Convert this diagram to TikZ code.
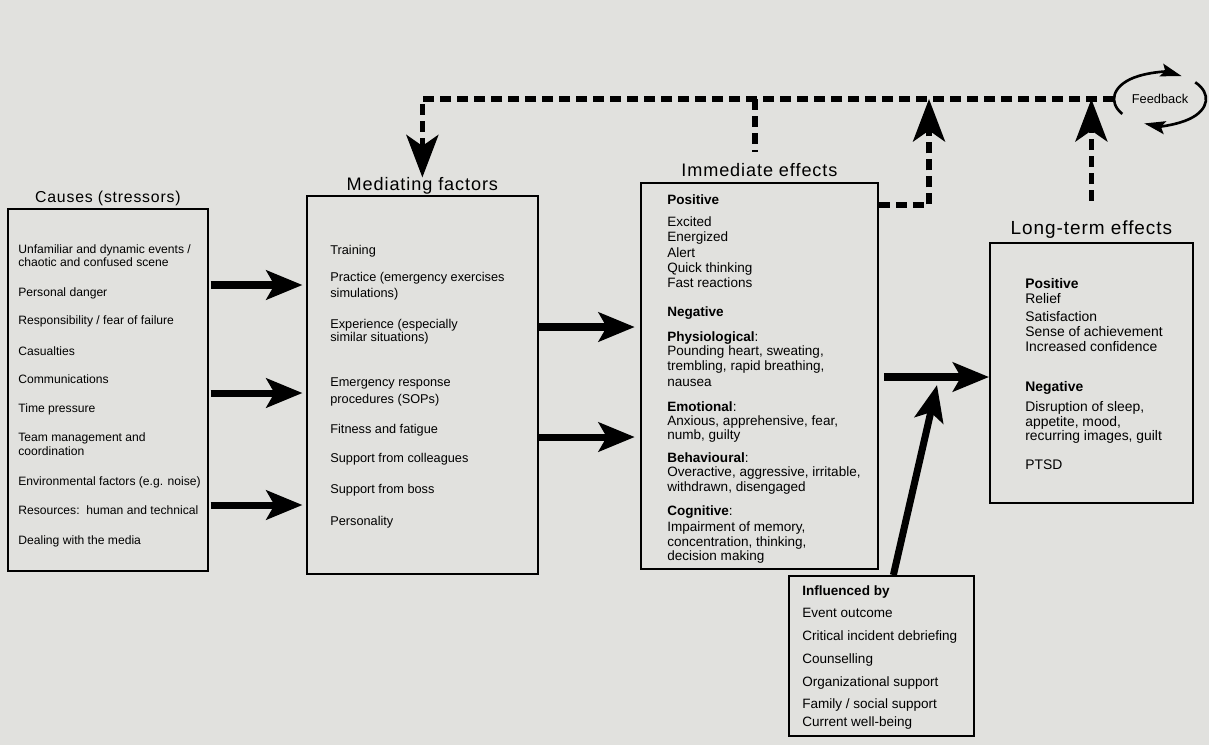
\documentclass[tikz,border=0pt]{standalone}
\usepackage{fontspec}
\setmainfont{Liberation Sans}
\usepackage{tikz}
\usetikzlibrary{positioning, arrows.meta, calc}

\newcommand{\fsz}[1]{\fontsize{#1}{#1}\selectfont}
\newcommand{\ttlfont}[1]{\fontsize{#1}{#1}\selectfont\addfontfeature{LetterSpace=5}}
\definecolor{paper}{RGB}{225,225,222}

\begin{document}
\begin{tikzpicture}[
  x=0.02cm, y=-0.02cm,
  panel/.style 2 args={
    draw, line width=1pt, anchor=north west, inner sep=0pt,
    minimum width=#1*0.02cm, minimum height=#2*0.02cm
  },
  ttl/.style={inner sep=0pt},
  item/.style={anchor=base west, inner sep=0pt},
  bigarrow/.style={line width=4pt, -{Stealth[length=0.72cm, width=0.58cm, inset=0.16cm]}},
  fbline/.style={line width=3pt, dash pattern=on 0.22cm off 0.12cm},
  fbhead/.style={-{Stealth[length=0.85cm, width=0.64cm, inset=0.22cm]}},
  fbarc/.style={line width=1.5pt, -{Stealth[length=0.42cm, width=0.26cm, inset=0.08cm]}},
]

\useasboundingbox (0,0) rectangle (1209,745);
\fill[paper] (0,0) rectangle (1209,745);

% Boxes
\node[panel={200}{362}] (cau) at (7,208) {};
\node[panel={231}{378}] (med) at (306,195) {};
\node[panel={237}{386}] (imm) at (640,182) {};
\node[panel={203}{260}] (lt) at (989,242) {};
\node[panel={185}{160}] (inf) at (788,575) {};

% Titles
\node[ttl, font=\ttlfont{9}, above=1pt of cau] (cauT) {Causes (stressors)};
\node[ttl, font=\ttlfont{10.3}, above=0pt of med] (medT) {Mediating factors};
\node[ttl, font=\ttlfont{10.3}, above=0.1cm of imm] (immT) {Immediate effects};
\node[ttl, font=\ttlfont{10.8}, above=0.06cm of lt] (ltT) {Long-term effects};

% Stressors
\foreach \y/\t [count=\i] in {
  250/{Unfamiliar and dynamic events /},
  263/{chaotic and confused scene},
  293/{Personal danger},
  321/{Responsibility / fear of failure},
  352/{Casualties},
  380/{Communications},
  409/{Time pressure},
  438/{Team management and},
  452/{coordination},
  482/{Environmental factors (e.g. noise)},
  511/{Resources:\ \ human and technical},
  541/{Dealing with the media}}
  \node[item, font=\fsz{6.9}] (cau-\i) at (18,\y+3.5) {\t};

% Mediating factors
\foreach \y/\t [count=\i] in {
  251/{Training},
  278/{Practice (emergency exercises},
  294/{simulations)},
  325/{Experience (especially},
  338/{similar situations)},
  383/{Emergency response},
  400/{procedures (SOPs)},
  430/{Fitness and fatigue},
  459/{Support from colleagues},
  490/{Support from boss},
  522/{Personality}}
  \node[item, font=\fsz{7.25}] (med-\i) at (330,\y+3.5) {\t};

% Immediate effects
\foreach \y/\t [count=\i] in {
  201/{\textbf{Positive}},
  223/{Excited},
  238/{Energized},
  254/{Alert},
  269/{Quick thinking},
  284/{Fast reactions},
  313/{\textbf{Negative}},
  338/{\textbf{Physiological}:},
  352/{Pounding heart, sweating,},
  367/{trembling, rapid breathing,},
  383/{nausea},
  408/{\textbf{Emotional}:},
  422/{Anxious, apprehensive, fear,},
  436/{numb, guilty},
  459/{\textbf{Behavioural}:},
  473/{Overactive, aggressive, irritable,},
  488/{withdrawn, disengaged},
  512/{\textbf{Cognitive}:},
  528/{Impairment of memory,},
  543/{concentration, thinking,},
  557/{decision making}}
  \node[item, font=\fsz{7.7}] (imm-\i) at (667,\y+3.5) {\t};

% Long-term effects
\foreach \y/\t [count=\i] in {
  285/{\textbf{Positive}},
  300/{Relief},
  318/{Satisfaction},
  333/{Sense of achievement},
  348/{Increased confidence},
  388/{\textbf{Negative}},
  408/{Disruption of sleep,},
  423/{appetite, mood,},
  437/{recurring images, guilt},
  466/{PTSD}}
  \node[item, font=\fsz{7.9}] (lt-\i) at (1025,\y+3.5) {\t};

% Influenced by
\foreach \y/\t [count=\i] in {
  592/{\textbf{Influenced by}},
  614/{Event outcome},
  637/{Critical incident debriefing},
  660/{Counselling},
  683/{Organizational support},
  705/{Family / social support},
  723/{Current well-being}}
  \node[item, font=\fsz{7.7}] (inf-\i) at (802,\y+3.5) {\t};

% Main arrows
\foreach \y in {285,393,505}
  \draw[bigarrow] ([xshift=1pt]cau.east |- 0,\y) -- ([xshift=-2pt]med.west |- 0,\y);
\foreach \y in {327,437}
  \draw[bigarrow] (med.east |- 0,\y) -- ([xshift=-3pt]imm.west |- 0,\y);
\draw[bigarrow] ([xshift=3pt]imm.east |- 0,377) -- (lt.west |- 0,377);

\coordinate (hit) at (937,385);
\draw[bigarrow] ([xshift=0.24cm]inf.north) -- (hit);

% Feedback loop
\node[font=\fsz{7.3}, inner sep=0pt] (fb) at (1160,99) {Feedback};
\draw[fbarc] (fb.center) ++(215:0.92cm and 0.52cm)
  arc[start angle=215, end angle=62, x radius=0.92cm, y radius=0.52cm];
\draw[fbarc] (fb.center) ++(40:0.92cm and 0.52cm)
  arc[start angle=40, end angle=-110, x radius=0.92cm, y radius=0.52cm];
\coordinate (fbW) at ($(fb.center)+(-0.92cm,0)$);

\draw[fbline, fbhead] (fbW) -| (medT.north);
\coordinate (stub) at (755,152);
\draw[fbline] (stub |- fbW) -- (stub);
\coordinate (upA) at (929,0);
\draw[fbline, fbhead] (imm.east |- 0,205) -| (upA |- fbW);
\draw[fbline, fbhead] ([yshift=0.4cm]ltT.north) -- (ltT.north |- fbW);

\end{tikzpicture}
\end{document}
